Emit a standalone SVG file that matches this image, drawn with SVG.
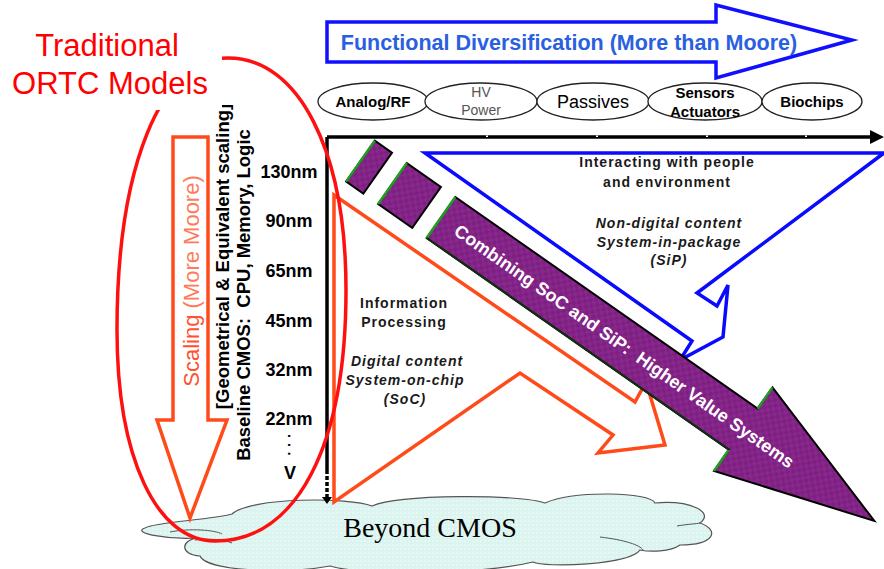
<svg xmlns="http://www.w3.org/2000/svg" width="884" height="569" viewBox="0 0 884 569">
<style>
.sans{font-family:"Liberation Sans",Arial,sans-serif}
.b{font-weight:bold}
.lbl{font-family:"Liberation Sans",Arial,sans-serif;font-weight:bold;font-size:14px;letter-spacing:1px;fill:#1a1a1a}
.it{font-style:italic}
.nm{font-family:"Liberation Sans",Arial,sans-serif;font-weight:bold;font-size:18px;fill:#000;text-anchor:middle}
.ell{fill:#fff;stroke:#222;stroke-width:1.3}
.et{font-family:"Liberation Sans",Arial,sans-serif;text-anchor:middle;fill:#000}
.pur{fill:url(#chk);stroke:#000;stroke-width:2}
.grn{stroke:#1fa01f;stroke-width:2.5;fill:none}
</style>
<defs>
<pattern id="chk" width="8" height="8" patternUnits="userSpaceOnUse">
<rect width="8" height="8" fill="#7f1f7f"/>
<rect width="4" height="4" fill="#86288e"/>
<rect x="4" y="4" width="4" height="4" fill="#86288e"/>
</pattern>
<pattern id="cld" width="4" height="4" patternUnits="userSpaceOnUse">
<rect width="4" height="4" fill="#dcf4ef"/>
<rect width="2" height="2" fill="#e6f8f4"/>
</pattern>
</defs>

<g id="cloud">
<path d="M232,514 C250,497 350,497 372,506 C400,494 520,494 545,503 C575,490 650,492 655,503 C690,500 715,512 700,523 C720,530 715,545 680,545 C670,552 650,552 640,550 C630,565 545,568 533,562 C480,575 360,575 330,566 C280,575 205,570 200,556 C180,555 180,540 198,538 C170,540 130,533 145,528 C155,522 210,520 232,514 Z" fill="url(#cld)" stroke="#555" stroke-width="1.2"/>
<path d="M600,537 C625,540 640,545 643,550 M677,526 C688,524 696,524 700,523 M170,532 C190,528 215,530 222,534 M195,540 C210,538 225,540 232,543" fill="none" stroke="#555" stroke-width="1"/>
<text x="430" y="537" font-family="'Liberation Serif','Times New Roman',serif" font-size="28" text-anchor="middle" fill="#000">Beyond CMOS</text>
</g>

<g id="connectors">
<line x1="327" y1="137" x2="872" y2="137" stroke="#000" stroke-width="3.5"/>
<polygon points="870,130 884,137 870,144" fill="#000"/>
<g stroke="#fff" stroke-width="2">
<line x1="487" y1="135.5" x2="487" y2="137"/>
<line x1="597" y1="135.5" x2="597" y2="137"/>
<line x1="707" y1="135.5" x2="707" y2="137"/>
<line x1="806" y1="135.5" x2="806" y2="137"/>
</g>
<line x1="327" y1="137" x2="327" y2="470" stroke="#000" stroke-width="3.5"/>
<line x1="327" y1="470" x2="327" y2="498" stroke="#000" stroke-width="3.5" stroke-dasharray="4,2"/>
<polygon points="322,497 332,497 327,504" fill="#000"/>
</g>

<g id="functional-diversification">
<polygon points="327,22 716,22 716,5 852,40 716,78 716,62 327,62" fill="#fff" stroke="#1010ff" stroke-width="3.5"/>
<text x="569" y="50" class="sans b" font-size="21.5" fill="#2a60e0" text-anchor="middle">Functional Diversification (More than Moore)</text>
</g>

<g id="analog-rf">
<ellipse class="ell" cx="373" cy="101.5" rx="55" ry="18.5"/>
<text class="et b" x="373" y="107" style="font-size:15px">Analog/RF</text>
</g>
<g id="hv-power">
<ellipse class="ell" cx="481" cy="101.5" rx="56" ry="18.5"/>
<text class="et" x="481" y="97" style="font-size:14px;fill:#555">HV</text>
<text class="et" x="481" y="115" style="font-size:14px;fill:#555">Power</text>
</g>
<g id="passives">
<ellipse class="ell" cx="593" cy="101.5" rx="56" ry="18.5"/>
<text class="et" x="593" y="108" style="font-size:18px">Passives</text>
</g>
<g id="sensors-actuators">
<ellipse class="ell" cx="705" cy="101.5" rx="57" ry="18.5"/>
<text class="et b" x="705" y="98" style="font-size:15px">Sensors</text>
<text class="et b" x="705" y="117" style="font-size:15px">Actuators</text>
</g>
<g id="biochips">
<ellipse class="ell" cx="812" cy="101.5" rx="50" ry="18.5"/>
<text class="et b" x="812" y="107" style="font-size:15px">Biochips</text>
</g>

<g id="scaling-arrow">
<polygon points="173,137 208,137 208,420 227,420 190,518 157,420 173,420" fill="#fff" stroke="#ff4a1a" stroke-width="3.5"/>
<text transform="translate(199,281) rotate(-90)" class="sans" font-size="22" text-anchor="middle"><tspan fill="#ff5030">Scaling </tspan><tspan fill="#ff7a5a">(More Moore)</tspan></text>
</g>

<g id="baseline-cmos">
<text transform="translate(229,256.5) rotate(-90)" class="sans b" font-size="18.5" text-anchor="middle" fill="#000">[Geometrical &amp; Equivalent scaling]</text>
<text transform="translate(250,295) rotate(-90)" class="sans b" font-size="18.5" text-anchor="middle" fill="#000" style="white-space:pre">Baseline CMOS:  CPU, Memory, Logic</text>
</g>

<g id="nodes-nm">
<text class="nm" x="289" y="178">130nm</text>
<text class="nm" x="289" y="227">90nm</text>
<text class="nm" x="289" y="277">65nm</text>
<text class="nm" x="289" y="327">45nm</text>
<text class="nm" x="289" y="376">32nm</text>
<text class="nm" x="289" y="425">22nm</text>
<text transform="translate(287.5,434) rotate(90)" class="sans b" font-size="14" fill="#000" style="letter-spacing:5px">...</text>
<text class="nm" x="290" y="479">V</text>
</g>

<g id="information-processing">
<polygon points="334,195 635,402 646,382 665,445 598,453 613,435 520,373 334,502" fill="none" stroke="#ff4a1a" stroke-width="3.5" stroke-linejoin="miter"/>
<text class="lbl" x="404" y="308" text-anchor="middle">Information</text>
<text class="lbl" x="404" y="327" text-anchor="middle">Processing</text>
<text class="lbl it" x="407" y="366" text-anchor="middle">Digital content</text>
<text class="lbl it" x="405" y="385" text-anchor="middle">System-on-chip</text>
<text class="lbl it" x="405" y="404" text-anchor="middle">(SoC)</text>
</g>

<g id="interacting">
<polygon points="425,153 884,153 697,293 717,306 728,285 723,337 680,360 692,341" fill="none" stroke="#0a0aff" stroke-width="3.5"/>
<text class="lbl" x="667" y="167" text-anchor="middle">Interacting with people</text>
<text class="lbl" x="667" y="187" text-anchor="middle">and environment</text>
<text class="lbl it" x="669" y="228" text-anchor="middle">Non-digital content</text>
<text class="lbl it" x="669" y="247" text-anchor="middle">System-in-package</text>
<text class="lbl it" x="669" y="265" text-anchor="middle">(SiP)</text>
</g>

<g id="combining" transform="translate(441,217.5) rotate(35)">
<rect class="pur" x="-98.3" y="-25" width="21" height="50"/>
<line class="grn" x1="-98.3" y1="-25" x2="-98.3" y2="25"/>
<rect class="pur" x="-59.2" y="-25" width="41.6" height="50"/>
<line class="grn" x1="-59.2" y1="-25" x2="-59.2" y2="25"/>
<path class="pur" d="M0,-25 L369,-25 L369,-51 L529,0 L369,51 L369,25 L0,25 Z"/>
<line class="grn" x1="0" y1="-25" x2="0" y2="25"/>
<line class="grn" x1="369" y1="-25" x2="369" y2="-51"/>
<line class="grn" x1="369" y1="25" x2="369" y2="51"/>
<line x1="0" y1="25" x2="369" y2="25" stroke="#103010" stroke-width="2"/>
<text x="224" y="6.5" class="sans b" font-size="18" fill="#fff" text-anchor="middle" style="white-space:pre">Combining SoC and SiP:  Higher Value Systems</text>
</g>

<g id="traditional-ortc">
<path d="M228,58 C299,58 346,151 346,290 C346,446 297,541 215,541 C156,541 117,457 117,330 C117,167 161,58 228,58 Z" fill="none" stroke="#ff1010" stroke-width="3.5"/>
<rect x="8" y="28" width="214" height="82" fill="#fff"/>
<text x="107" y="56" class="sans" font-size="31" fill="#ff0000" text-anchor="middle">Traditional</text>
<text x="110" y="94" class="sans" font-size="31" fill="#ff0000" text-anchor="middle">ORTC Models</text>
</g>
</svg>
